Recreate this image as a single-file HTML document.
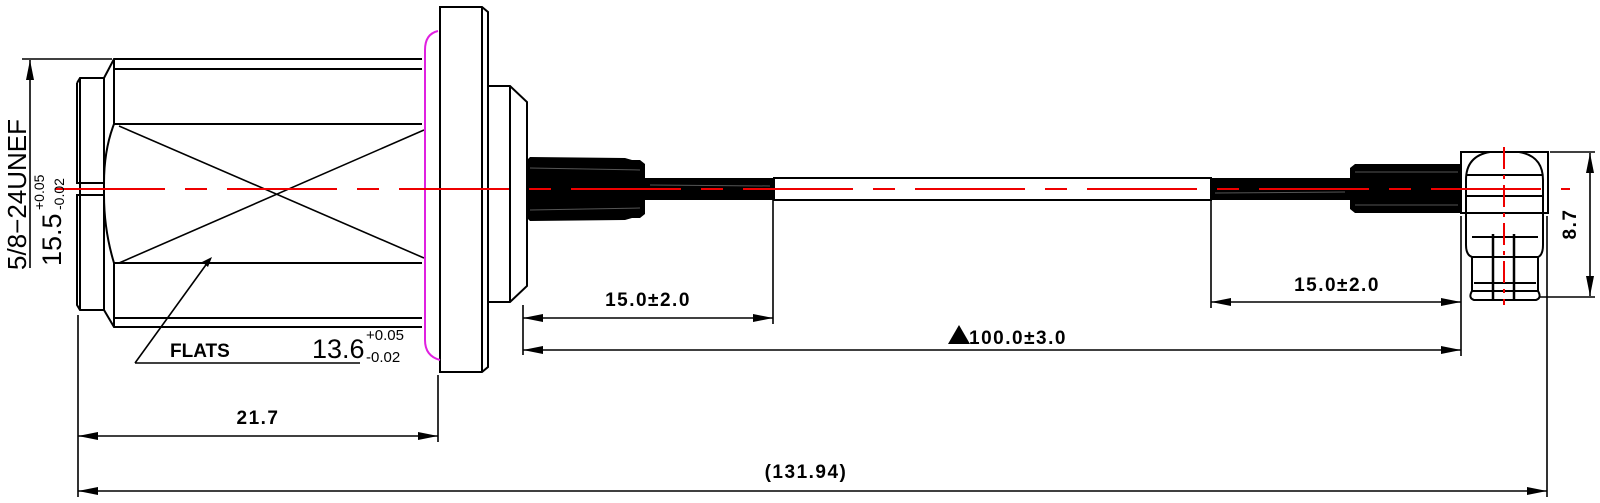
<!DOCTYPE html>
<html><head><meta charset="utf-8"><style>
html,body{margin:0;padding:0;background:#fff;}
svg{display:block;}
text{font-family:"Liberation Sans",sans-serif;}
</style></head><body>
<svg width="1600" height="503" viewBox="0 0 1600 503" xmlns="http://www.w3.org/2000/svg">
<defs>
<marker id="a" viewBox="0 0 20 8" refX="20" refY="4" markerWidth="20" markerHeight="8" orient="auto-start-reverse" markerUnits="userSpaceOnUse"><path d="M0,0 L20,4 L0,8 Z" fill="#000"/></marker>
</defs>
<g fill="none" stroke="#000" stroke-width="2">
<path d="M77,83 L80,78 L104,78 L114,59 L422,59 M77,83 L77,183 L104,183 L104,195 L77,195 L77,305 L80,310 L104,310 L114,327 L422,327"/>
<path d="M80,78 L80,310 M104,78 L104,183 M104,195 L104,310"/>
<path d="M114,59 L114,124 M114,263 L114,327 M114,124 Q104,150 104,183 M114,263 Q104,230 104,195"/>
<path d="M114,69 L422,69 M114,318 L422,318 M114,124 L422,124 M114,263 L422,263"/>
<path d="M119,126 L424,258 M119,263 L424,130" stroke-width="1.6"/>
<path d="M440,7 L482,7 L488,12 L488,367 L482,372 L440,372 Z M482,7 L482,372"/>
<path d="M488,86 L510,86 L527,102 L527,286 L510,302 L488,302 M510,86 L510,302"/>
<rect x="774" y="178" width="437" height="22"/>
<rect x="1461" y="152" width="87" height="61"/>
<path d="M1490,152 Q1466,156 1466,180 L1466,245 Q1466,255 1472,257 L1472,291 Q1468,298 1474,300 L1536,300 Q1542,298 1538,291 L1538,257 Q1543,255 1543,245 L1543,180 Q1543,156 1519,152"/>
<path d="M1466,175 L1543,175 M1466,196 L1543,196 M1472,257 L1538,257 M1474,283 L1536,283 M1472,291 L1538,291 M1472,237 L1538,237"/>
<path d="M1493,234 L1493,300 M1514,234 L1514,300" stroke-width="2.5"/>
</g>
<path d="M438,31 Q425,34 425,50 L425,340 Q425,356 440,360" fill="none" stroke="#e020e0" stroke-width="2"/>
<path d="M527,160 L530,157 L625,158 L632,160 L640,160 L645,164 L645,178 L774,178 L774,200 L645,200 L645,214 L640,218 L632,218 L625,220 L530,221 L527,218 Z" fill="#000"/>
<path d="M1211,178 L1350,178 L1350,168 L1355,164 L1461,164 L1461,213 L1355,213 L1350,209 L1350,200 L1211,200 Z" fill="#000"/>
<g stroke="#555" stroke-width="1"><path d="M530,168 L640,170 M530,210 L640,208 M650,185 L770,186 M1355,172 L1458,172 M1355,205 L1458,205 M1215,193 L1345,192"/></g>
<path d="M55,189 L1570,189" stroke="#e00" stroke-width="2" stroke-dasharray="110,20,22,20"/>
<path d="M1504,147 L1504,305" stroke="#e00" stroke-width="2" stroke-dasharray="22,6,4,6"/>
<g stroke="#000" stroke-width="1.6" fill="none">
<path d="M22,59 L112,59"/>
<path d="M30,268 L30,60" marker-end="url(#a)"/>
<path d="M78,315 L78,497 M438,375 L438,442 M523,305 L523,355 M773,200 L773,324 M1211,200 L1211,308 M1461,216 L1461,356 M1547,216 L1547,497 M1550,152 L1595,152 M1540,297 L1595,297"/>
<path d="M523,318 L773,318" marker-start="url(#a)" marker-end="url(#a)"/>
<path d="M1211,302 L1461,302" marker-start="url(#a)" marker-end="url(#a)"/>
<path d="M523,350 L1461,350" marker-start="url(#a)" marker-end="url(#a)"/>
<path d="M78,436 L438,436" marker-start="url(#a)" marker-end="url(#a)"/>
<path d="M78,491 L1547,491" marker-start="url(#a)" marker-end="url(#a)"/>
<path d="M1590,153 L1590,296" marker-start="url(#a)" marker-end="url(#a)"/>
<path d="M135,363 L208,262 M135,363 L360,363"/>
</g>
<path d="M212,257 L202,262 L208,267 Z" fill="#000"/>
<g font-weight="bold" font-size="19" fill="#000" text-anchor="middle" letter-spacing="1.5">
<text x="648" y="306">15.0±2.0</text>
<text x="1337" y="291">15.0±2.0</text>
<text x="1018" y="344">100.0±3.0</text>
<text x="258" y="424">21.7</text>
<text x="806" y="478">(131.94)</text>
<text transform="translate(1576,224) rotate(-90)">8.7</text>
</g>
<path d="M948,344 L959,325 L970,344 Z" fill="#000"/>
<text x="170" y="357" font-family="Liberation Serif,serif" font-weight="bold" font-size="19">FLATS</text>
<text x="312" y="358" font-size="27">13.6</text>
<text x="366" y="340" font-size="15">+0.05</text>
<text x="366" y="362" font-size="15">-0.02</text>
<text transform="translate(26,270) rotate(-90)" font-size="26">5/8−24UNEF</text>
<text transform="translate(61,266) rotate(-90)" font-size="27">15.5</text>
<text transform="translate(44,210) rotate(-90)" font-size="14">+0.05</text>
<text transform="translate(64,210) rotate(-90)" font-size="14">-0.02</text>
</svg>
</body></html>
